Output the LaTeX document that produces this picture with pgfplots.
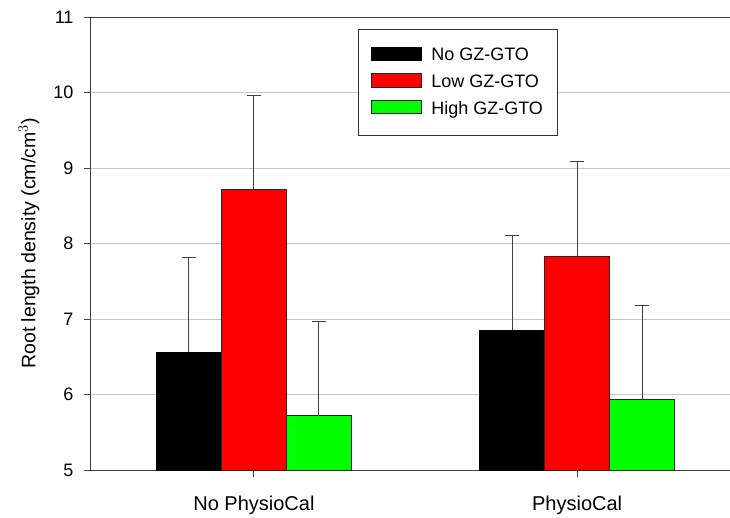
\documentclass[border=0pt]{standalone}
\usepackage{fontspec}
\setmainfont{Liberation Sans}
\usepackage{pgfplots}
\pgfplotsset{compat=1.18}
\definecolor{barred}{RGB}{255,0,0}
\definecolor{bargreen}{RGB}{0,255,0}
\begin{document}
\begin{tikzpicture}
\useasboundingbox (-91pt,-47pt) rectangle (639pt,470pt);
\begin{axis}[
  scale only axis,
  width=639pt, height=453pt,
  xmin=-0.504, xmax=1.473,
  ymin=5, ymax=11,
  ytick={5,6,7,8,9,10,11},
  xtick={0,1},
  xticklabels={No PhysioCal, PhysioCal},
  axis x line*=box,
  axis y line*=left,
  axis line style={-, black!75, line width=1pt},
  xtick pos=bottom, ytick pos=left,
  tick align=outside,
  major tick length=7pt,
  tick style={black!75, line width=1pt},
  ymajorgrids,
  grid style={black!22, line width=1pt},
  /pgf/number format/assume math mode=true,
  yticklabel style={font=\fontsize{18}{20}\selectfont, anchor=east, xshift=-7pt},
  xticklabel style={font=\fontsize{20}{22}\selectfont, yshift=-15pt},
  ylabel={Root length density (cm/cm$^{3}$)},
  ylabel style={font=\fontsize{19.5}{22}\selectfont, at={(axis description cs:-0.097,0.5)}, anchor=center},
  ybar=0pt,
  bar width=65pt,
  clip=false,
  legend style={at={(axis description cs:0.418,0.9735)}, anchor=north west,
    draw=black!80, line width=0.8pt, inner xsep=12pt, inner ysep=17pt,
    font=\fontsize{18}{20}\selectfont, row sep=8.5pt,
    /tikz/every odd column/.append style={column sep=8pt}},
  legend cell align=left,
  legend image code/.code={\draw[#1, line width=0.8pt] (0pt,-5pt) rectangle (50pt,8.5pt);},
]
\addplot[fill=black, draw=black, line width=0.8pt,
  error bars/.cd, y dir=plus, y explicit,
  error bar style={line width=1pt, black!75},
  error mark options={rotate=90, mark size=7pt, line width=1pt, black!75}]
  table[x=x, y=y, y error=e] {
x y e
0 6.56 1.25
1 6.85 1.25
};
\addplot[fill=barred, draw=black!85, line width=0.8pt,
  error bars/.cd, y dir=plus, y explicit,
  error bar style={line width=1pt, black!75},
  error mark options={rotate=90, mark size=7pt, line width=1pt, black!75}]
  table[x=x, y=y, y error=e] {
x y e
0 8.71 1.25
1 7.83 1.25
};
\addplot[fill=bargreen, draw=black!85, line width=0.8pt,
  error bars/.cd, y dir=plus, y explicit,
  error bar style={line width=1pt, black!75},
  error mark options={rotate=90, mark size=7pt, line width=1pt, black!75}]
  table[x=x, y=y, y error=e] {
x y e
0 5.72 1.25
1 5.93 1.25
};
\legend{No GZ-GTO, Low GZ-GTO, High GZ-GTO}
\end{axis}
\end{tikzpicture}
\end{document}
